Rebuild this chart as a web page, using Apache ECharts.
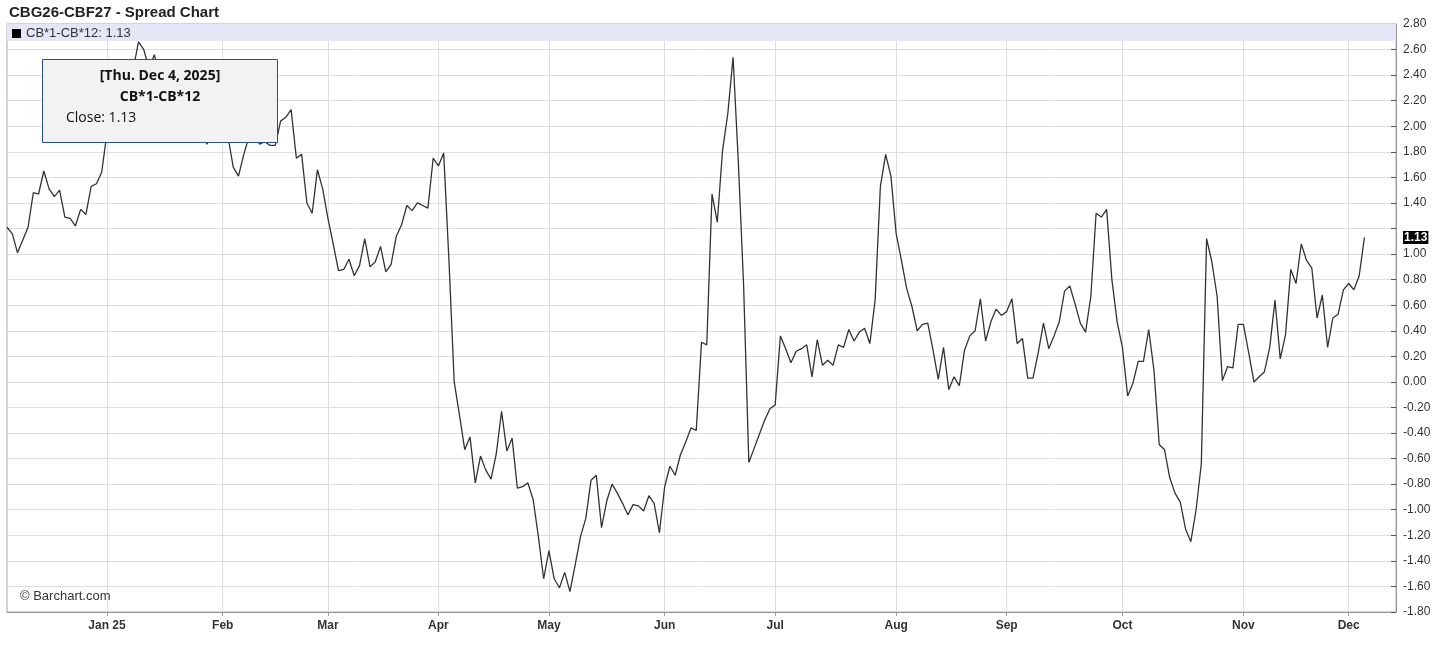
<!DOCTYPE html>
<html>
<head>
<meta charset="utf-8">
<script src="https://cdn.jsdelivr.net/npm/echarts@6/dist/echarts.min.js"></script>
<style>
  html, body { margin: 0; padding: 0; background: #fff; }
  #chart { width: 1456px; height: 649px; }
</style>
</head>
<body>
<div id="chart"></div>
<script>
const chartTitle = 'CBG26-CBF27 - Spread Chart';
const seriesName = 'CB*1-CB*12';
const startDate = '2024-12-04';
const holidays = ['2024-12-25', '2025-01-01', '2025-04-18'];
const padDays = 6;
const monthLabels = ['Jan 25', 'Feb', 'Mar', 'Apr', 'May', 'Jun', 'Jul', 'Aug', 'Sep', 'Oct', 'Nov', 'Dec'];
const tooltipLines = ['[Thu. Dec 4, 2025]', 'CB*1-CB*12', 'Close: 1.13'];

const closeValues = [
  1.21, 1.16, 1.01, 1.11, 1.21, 1.48, 1.47, 1.65, 1.51, 1.45,
  1.50, 1.29, 1.28, 1.22, 1.35, 1.31, 1.53, 1.55, 1.64, 1.95,
  2.10, 2.25, 2.35, 2.30, 2.45, 2.66, 2.60, 2.45, 2.56, 2.40,
  2.30, 2.20, 2.25, 2.10, 2.15, 2.00, 2.05, 1.95, 1.86, 1.95,
  2.00, 1.95, 1.92, 1.68, 1.61, 1.78, 1.92, 1.95, 1.86, 1.88,
  1.85, 1.85, 2.04, 2.07, 2.13, 1.75, 1.78, 1.40, 1.32, 1.66,
  1.51, 1.28, 1.08, 0.87, 0.88, 0.96, 0.83, 0.91, 1.12, 0.90,
  0.94, 1.06, 0.86, 0.92, 1.14, 1.23, 1.38, 1.34, 1.40, 1.38,
  1.36, 1.75, 1.69, 1.79, 0.95, 0.00, -0.26, -0.53, -0.43, -0.79,
  -0.58, -0.69, -0.76, -0.56, -0.23, -0.54, -0.44, -0.83, -0.82, -0.79,
  -0.92, -1.21, -1.54, -1.32, -1.54, -1.61, -1.49, -1.64, -1.43, -1.21,
  -1.07, -0.77, -0.73, -1.14, -0.93, -0.80, -0.87, -0.95, -1.04, -0.96,
  -0.97, -1.01, -0.89, -0.95, -1.18, -0.82, -0.66, -0.73, -0.57, -0.47,
  -0.36, -0.38, 0.31, 0.29, 1.47, 1.25, 1.81, 2.10, 2.54, 1.72,
  0.76, -0.63, -0.52, -0.41, -0.30, -0.21, -0.18, 0.36, 0.26, 0.15,
  0.24, 0.26, 0.29, 0.04, 0.33, 0.13, 0.17, 0.13, 0.29, 0.27,
  0.41, 0.32, 0.39, 0.42, 0.30, 0.64, 1.53, 1.78, 1.61, 1.16,
  0.95, 0.73, 0.59, 0.40, 0.45, 0.46, 0.25, 0.02, 0.27, -0.06,
  0.04, -0.03, 0.25, 0.36, 0.40, 0.65, 0.32, 0.47, 0.57, 0.52,
  0.55, 0.65, 0.30, 0.34, 0.03, 0.03, 0.23, 0.46, 0.26, 0.36,
  0.47, 0.71, 0.75, 0.61, 0.46, 0.39, 0.67, 1.32, 1.29, 1.35,
  0.80, 0.47, 0.27, -0.11, -0.01, 0.16, 0.16, 0.41, 0.09, -0.49,
  -0.53, -0.75, -0.87, -0.94, -1.15, -1.25, -1.00, -0.64, 1.12, 0.94,
  0.67, 0.01, 0.12, 0.11, 0.45, 0.45, 0.23, 0.00, 0.04, 0.08,
  0.27, 0.64, 0.18, 0.37, 0.88, 0.77, 1.08, 0.95, 0.89, 0.50,
  0.68, 0.27, 0.50, 0.53, 0.72, 0.77, 0.72, 0.83, 1.13
];

// trading-day categories (weekdays minus exchange holidays)
function buildDates(start, count) {
  const out = [];
  const d = new Date(start + 'T00:00:00Z');
  while (out.length < count) {
    const iso = d.toISOString().slice(0, 10);
    const wd = d.getUTCDay();
    if (wd !== 0 && wd !== 6 && holidays.indexOf(iso) < 0) out.push(iso);
    d.setUTCDate(d.getUTCDate() + 1);
  }
  return out;
}
const dates = buildDates(startDate, closeValues.length + padDays);
function isMonthStart(i) {
  return i > 0 && dates[i].slice(0, 7) !== dates[i - 1].slice(0, 7);
}
const lastValue = closeValues[closeValues.length - 1];

const chart = echarts.init(document.getElementById('chart'), null, { renderer: 'canvas' });
const FONT = '"Liberation Sans", Arial, sans-serif';
const TIPFONT = '"Open Sans", "Noto Sans", sans-serif';

chart.setOption({
  animation: false,
  backgroundColor: '#ffffff',
  title: {
    text: chartTitle,
    left: 4, top: 0,
    textStyle: { fontFamily: FONT, fontSize: 15, fontWeight: 'bold', color: '#222' }
  },
  legend: {
    data: [seriesName],
    left: 12, top: 27,
    padding: 0,
    icon: 'rect', itemWidth: 9, itemHeight: 9, itemGap: 5,
    itemStyle: { color: '#000' },
    formatter: (name) => name + ': ' + lastValue.toFixed(2),
    textStyle: { fontFamily: FONT, fontSize: 13, color: '#333' }
  },
  grid: {
    left: 7, right: 60, top: 24, bottom: 37,
    show: true, borderColor: '#a8a8a8', borderWidth: 1
  },
  xAxis: {
    type: 'category',
    data: dates,
    boundaryGap: false,
    axisLine: { show: true, onZero: false, lineStyle: { color: '#999', width: 1 } },
    axisTick: { show: true, interval: (i) => isMonthStart(i), length: 4, lineStyle: { color: '#999' } },
    axisLabel: {
      interval: (i) => isMonthStart(i),
      formatter: (v) => monthLabels[parseInt(v.slice(5, 7), 10) - 1],
      fontFamily: FONT, fontSize: 12, fontWeight: 'bold', color: '#333', margin: 8
    },
    splitLine: { show: true, interval: (i) => isMonthStart(i), lineStyle: { color: '#dedede', width: 1 } }
  },
  yAxis: {
    type: 'value',
    position: 'right',
    min: -1.8, max: 2.8, interval: 0.2,
    axisLine: { show: true, lineStyle: { color: '#999' } },
    axisTick: { show: true, inside: true, length: 5, lineStyle: { color: '#555' } },
    axisLabel: {
      formatter: (v) => Math.abs(v - 1.2) < 1e-6 ? '' : v.toFixed(2),
      fontFamily: FONT, fontSize: 12, color: '#333', margin: 7
    },
    splitLine: { show: true, lineStyle: { color: '#dedede', width: 1 } }
  },
  series: [{
    name: seriesName,
    type: 'line',
    data: closeValues,
    showSymbol: false,
    symbol: 'none',
    color: '#333',
    lineStyle: { color: '#333', width: 1.3 },
    z: 3,
    markLine: {
      silent: true,
      symbol: 'none',
      lineStyle: { color: 'rgba(0,0,0,0)', width: 0 },
      label: {
        show: true,
        position: 'end', distance: 7,
        formatter: () => lastValue.toFixed(2),
        backgroundColor: '#000', color: '#fff',
        fontFamily: FONT, fontSize: 12, fontWeight: 'bold',
        padding: [1, 1, 0, 1]
      },
      data: [{ yAxis: lastValue }]
    }
  }],
  graphic: [
    {
      type: 'rect', z: 1, silent: true,
      shape: { x: 7, y: 24, width: 1389, height: 17 },
      style: { fill: '#e6e6f9', stroke: null }
    },
    {
      type: 'text', z: 5, silent: true,
      left: 20, top: 590,
      style: { text: '\u00a9 Barchart.com', font: '13px ' + FONT, fill: '#333' }
    },
    {
      type: 'rect', z: 100, zlevel: 1, silent: true,
      shape: { x: 42.5, y: 59.5, width: 235, height: 83 },
      style: { fill: '#f2f2f2', stroke: '#2d4f86', lineWidth: 1 }
    },
    {
      type: 'text', z: 101, zlevel: 1, silent: true,
      style: { x: 160, y: 76, text: tooltipLines[0], font: 'bold 14px ' + TIPFONT, fill: '#111', align: 'center', verticalAlign: 'middle' }
    },
    {
      type: 'text', z: 101, zlevel: 1, silent: true,
      style: { x: 160, y: 97, text: tooltipLines[1], font: 'bold 14px ' + TIPFONT, fill: '#111', align: 'center', verticalAlign: 'middle' }
    },
    {
      type: 'text', z: 101, zlevel: 1, silent: true,
      style: { x: 66, y: 118, text: tooltipLines[2], font: '14px ' + TIPFONT, fill: '#111', align: 'left', verticalAlign: 'middle' }
    }
  ]
});
</script>
</body>
</html>
